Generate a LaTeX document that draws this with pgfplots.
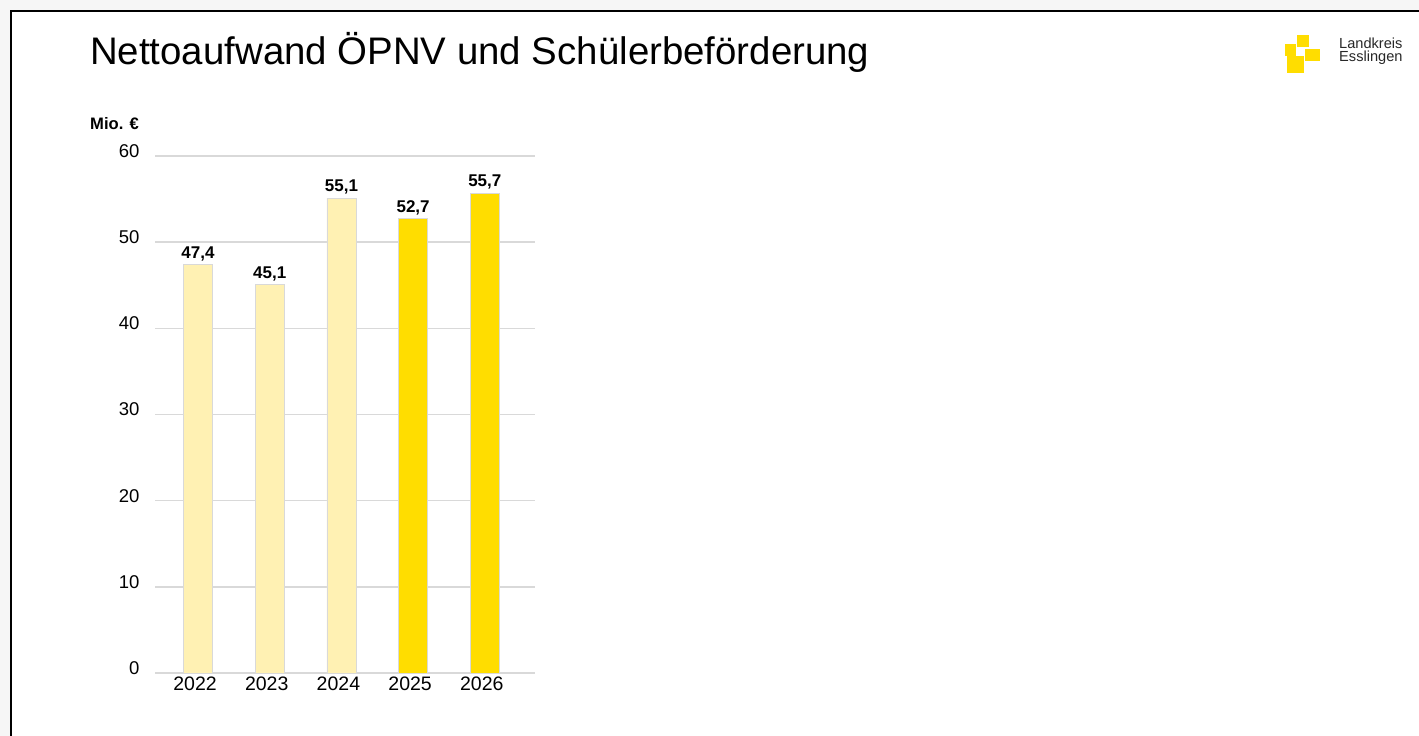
\documentclass[border=0pt]{standalone}
\usepackage{fontspec}
\setmainfont{Liberation Sans}
\usepackage{pgfplots}
\pgfplotsset{compat=1.18}
\definecolor{lightyel}{RGB}{255,241,179}
\definecolor{yel}{RGB}{255,221,0}
\definecolor{gridgray}{RGB}{217,217,217}
\definecolor{logotext}{RGB}{40,40,40}

\begin{document}
\begin{tikzpicture}[x=1pt,y=1pt]
\useasboundingbox (0,0) rectangle (1419,736);
% slide background and frame
\fill[gray!7] (0,0) rectangle (1419,736);
\fill[white] (11,0) rectangle (1419,725);
\draw[black, line width=1.2pt] (11,0) -- (11,725) -- (1419,725);
% title
\node[anchor=base west, inner sep=0, font=\fontsize{38.4}{40}\selectfont]
  at (90,671) {Nettoaufwand ÖPNV und Schülerbeförderung};
% logo
\fill[yel] (1297,689) rectangle (1309,701);
\fill[yel] (1285,680) rectangle (1296,692);
\fill[yel] (1305,675) rectangle (1320,687);
\fill[yel] (1287,663) rectangle (1304,680);
\node[anchor=base west, inner sep=0, text=logotext, font=\fontsize{14.6}{15}\selectfont]
  at (1339,687.7) {Landkreis};
\node[anchor=base west, inner sep=0, text=logotext, font=\fontsize{14.6}{15}\selectfont]
  at (1339,674.3) {Esslingen};
% unit label
\node[anchor=west, inner sep=0, font=\bfseries\fontsize{16.6}{18}\selectfont]
  at (90,612) {Mio. €};

\begin{axis}[
    at={(155pt,63pt)}, anchor=south west,
    scale only axis, width=380pt, height=517pt,
    xmin=-0.6, xmax=4.7, ymin=0, ymax=60,
    ytick={0,10,...,60},
    xtick={0,...,4}, xticklabels={2022,2023,2024,2025,2026},
    ymajorgrids, grid style={gridgray, line width=1.5pt},
    axis x line*=bottom, axis y line*=left,
    y axis line style={draw=none},
    x axis line style={gridgray, line width=2pt, -},
    major tick length=0pt,
    /pgf/number format/assume math mode=true,
    yticklabel style={font=\fontsize{18.5}{20}\selectfont, xshift=-12pt, yshift=5pt},
    xticklabel style={font=\fontsize{19.5}{21}\selectfont, xshift=-3pt},
    ybar, bar width=29pt,
    nodes near coords={\pgfmathprintnumber[fixed,fixed zerofill,precision=1,use comma,assume math mode=true]{\pgfplotspointmeta}},
    nodes near coords style={font=\bfseries\fontsize{17}{19}\selectfont, text=black},
    clip=false,
  ]
  \addplot[fill=lightyel, draw=gridgray, line width=0.8pt, bar shift=0pt]
    coordinates {(0,47.4) (1,45.1) (2,55.1)};
  \addplot[fill=yel, draw=gridgray, line width=0.8pt, bar shift=0pt]
    coordinates {(3,52.7) (4,55.7)};
\end{axis}
\end{tikzpicture}
\end{document}
